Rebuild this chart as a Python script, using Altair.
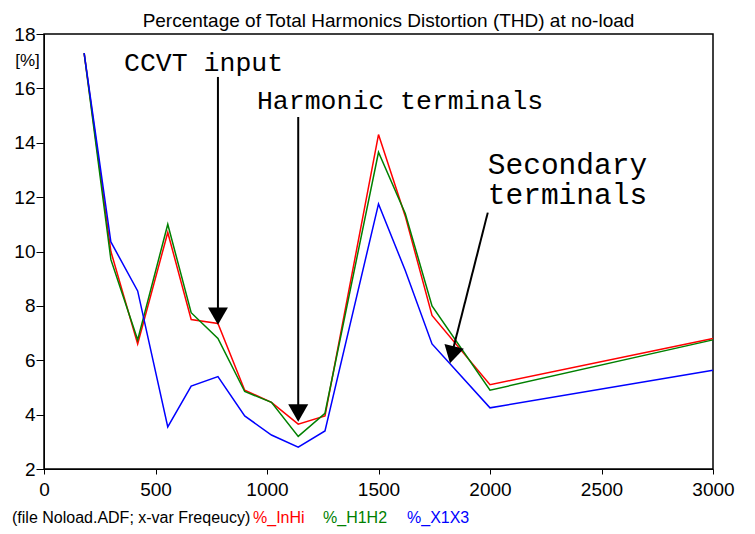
import altair as alt
import pandas as pd

# ---- data ----
freq = [180, 300, 420, 555, 660, 780, 900, 1020, 1140, 1260, 1500, 1620, 1740, 2000, 3000]
thd_inhi = [17.3, 10.0, 6.6, 10.7, 7.5, 7.35, 4.9, 4.45, 3.65, 3.95, 14.3, 11.3, 7.65, 5.1, 6.8]
thd_h1h2 = [17.3, 9.7, 6.75, 11.0, 7.75, 6.8, 4.85, 4.45, 3.2, 4.05, 13.65, 11.4, 8.0, 4.9, 6.75]
thd_x1x3 = [17.3, 10.35, 8.55, 3.55, 5.05, 5.4, 3.95, 3.25, 2.8, 3.4, 11.75, 9.3, 6.6, 4.25, 5.63]
series_names = ["%_InHi", "%_H1H2", "%_X1X3"]
series_colors = ["#ff0000", "#008000", "#0000ff"]
x_ticks = [0, 500, 1000, 1500, 2000, 2500, 3000]
y_ticks = [2, 4, 6, 8, 10, 12, 14, 16, 18]
footer_text = "(file Noload.ADF; x-var Freqeucy)"

# annotations (data units)
note_text = ["CCVT input", "Harmonic terminals"]
note_x = [359, 955]
note_y = [16.93, 15.53]
note2_text = ["Secondary", "terminals"]
note2_x = [1990, 1990]
note2_y = [13.2, 12.06]
arrow_x = [780, 1140, 1990]
arrow_y = [16.42, 14.95, 11.43]
arrow_x2 = [780, 1140, 1825]
arrow_y2 = [7.6, 4.0, 6.1]
head_x = [780, 1140, 1830]
head_y = [7.62, 4.06, 6.20]
head_angle = [0, 0, 14]

rows = []
for name, vals in zip(series_names, [thd_inhi, thd_h1h2, thd_x1x3]):
    for f, v in zip(freq, vals):
        rows.append({"freq": f, "thd": v, "series": name})
df = pd.DataFrame(rows)

notes = pd.DataFrame({"text": note_text, "freq": note_x, "thd": note_y})
notes2 = pd.DataFrame({"text": note2_text, "freq": note2_x, "thd": note2_y})
arrows = pd.DataFrame({"freq": arrow_x, "thd": arrow_y, "freq2": arrow_x2, "thd2": arrow_y2})
heads = pd.DataFrame({"freq": head_x, "thd": head_y, "angle": head_angle})
one = pd.DataFrame({"k": [0]})

W, H = 669, 435
SANS = "Liberation Sans, Arial, sans-serif"
MONO = "Liberation Mono, Courier New, monospace"

xs = alt.Scale(domain=[0, 3000], nice=False, zero=False)
ys = alt.Scale(domain=[2, 18], nice=False, zero=False)

x_enc = alt.X("freq:Q", scale=xs, axis=alt.Axis(
    values=x_ticks, format="d", title=None, grid=False, domainColor="black", tickColor="black",
    tickSize=5, labelPadding=6, labelFont=SANS, labelFontSize=19, labelColor="black",
    labelFlush=False, labelOverlap=False))
y_enc = alt.Y("thd:Q", scale=ys, axis=alt.Axis(
    values=y_ticks, format="d", title="[%]", titleAngle=0, titleX=-17, titleY=26, titleAlign="center",
    titleBaseline="middle", titleFont=SANS, titleFontSize=17, titleFontWeight="normal",
    titleColor="black", grid=False, domainColor="black", tickColor="black", tickSize=8,
    labelPadding=1, labelFont=SANS, labelFontSize=19, labelColor="black",
    labelFlush=False, labelOverlap=False))

lines = alt.Chart(df).mark_line(strokeWidth=1.5).encode(
    x=x_enc, y=y_enc,
    color=alt.Color("series:N", scale=alt.Scale(domain=series_names, range=series_colors), legend=None),
)

rules = alt.Chart(arrows).mark_rule(color="black", strokeWidth=2).encode(
    x="freq:Q", y="thd:Q", x2="freq2:Q", y2="thd2:Q")

arrow_heads = alt.Chart(heads).mark_point(
    shape="triangle-down", filled=True, size=400, color="black", opacity=1, strokeWidth=0
).encode(x="freq:Q", y="thd:Q", angle=alt.Angle("angle:Q", scale=None))

note_marks = alt.Chart(notes).mark_text(
    align="left", baseline="middle", font=MONO, fontSize=26.5, color="black"
).encode(x="freq:Q", y="thd:Q", text="text:N")

note2_marks = alt.Chart(notes2).mark_text(
    align="left", baseline="middle", font=MONO, fontSize=29.5, color="black"
).encode(x="freq:Q", y="thd:Q", text="text:N")


def footer(text, px, color):
    return alt.Chart(one).mark_text(
        align="left", baseline="middle", font=SANS, fontSize=16, color=color
    ).encode(x=alt.value(px), y=alt.value(484), text=alt.value(text))


footers = [
    footer(footer_text, -32, "black"),
    footer(series_names[0], 209, series_colors[0]),
    footer(series_names[1], 279, series_colors[1]),
    footer(series_names[2], 363, series_colors[2]),
]

chart = alt.layer(
    lines, rules, arrow_heads, note_marks, note2_marks, *footers
).properties(
    width=W, height=H,
    title=alt.TitleParams("Percentage of Total Harmonics Distortion (THD) at no-load",
                          font=SANS, fontSize=19, fontWeight="normal", color="black",
                          offset=-6, dx=10),
    autosize=alt.AutoSizeParams(type="none"),
    padding={"left": 44, "top": 34, "right": 42, "bottom": 65},
    background="white",
).configure_view(stroke="black", strokeWidth=1.5)

chart.save("out.html", embed_options={"renderer": "svg", "actions": False})
